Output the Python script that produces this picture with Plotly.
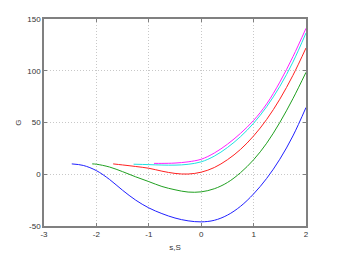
import plotly.graph_objects as go

# Curve data
blue_x = [-2.47, -2.25, -2.0, -1.75, -1.5, -1.25, -1.0, -0.75, -0.5, -0.25, 0.0, 0.25, 0.5, 0.75, 1.0, 1.25, 1.5, 1.75, 2.0]
blue_y = [10, 8.5, 3.5, -5, -15.5, -25, -32.5, -38, -42.3, -45, -46, -44.5, -39.5, -31, -19, -4, 14.5, 37, 64.5]

green_x = [-2.08, -2.0, -1.75, -1.5, -1.25, -1.0, -0.75, -0.5, -0.25, 0.0, 0.25, 0.5, 0.75, 1.0, 1.25, 1.5, 1.75, 2.0]
green_y = [10, 9.7, 7, 2.5, -2.5, -7.1, -11.8, -15, -17.2, -17, -14, -8, 1.5, 14, 30, 50, 73, 98.5]

red_x = [-1.68, -1.5, -1.25, -1.0, -0.75, -0.5, -0.25, 0.0, 0.25, 0.5, 0.75, 1.0, 1.25, 1.5, 1.75, 2.0]
red_y = [10, 9, 7.5, 5.8, 3, 0.8, 0.2, 2, 6.5, 14, 24, 37, 53, 72.5, 95.5, 122]

cyan_x = [-1.29, -1.0, -0.75, -0.5, -0.25, 0.0, 0.25, 0.5, 0.75, 1.0, 1.25, 1.5, 1.75, 2.0]
cyan_y = [9.7, 9.3, 8.9, 8.8, 9.6, 12, 17.5, 25.8, 36.3, 49.3, 65.3, 84.8, 108.3, 136.5]

magenta_x = [-0.9, -0.75, -0.5, -0.25, 0.0, 0.25, 0.5, 0.75, 1.0, 1.25, 1.5, 1.75, 2.0]
magenta_y = [10.5, 10.5, 10.8, 12, 14.5, 20.5, 29, 39.5, 52, 68, 89, 113.5, 141]

x_ticks = [-3, -2, -1, 0, 1, 2]
y_ticks = [-50, 0, 50, 100, 150]

series = [
    (blue_x, blue_y, "#2020ff"),
    (green_x, green_y, "#20a020"),
    (red_x, red_y, "#ff2020"),
    (cyan_x, cyan_y, "#20e0e0"),
    (magenta_x, magenta_y, "#ff20ff"),
]

fig = go.Figure()
for xs, ys, c in series:
    fig.add_trace(go.Scatter(x=xs, y=ys, mode="lines",
                             line=dict(color=c, width=1, shape="spline", smoothing=1.0),
                             showlegend=False, hoverinfo="skip"))

font_family = "Liberation Sans, Arial, sans-serif"
axis_common = dict(
    showline=True, linecolor="#808080", linewidth=1.5, mirror="ticks",
    ticks="inside", ticklen=3, tickcolor="#808080",
    showgrid=True, gridcolor="#c8c8c8", gridwidth=1, griddash="1px,2px",
    zeroline=False, automargin=False,
    tickfont=dict(family=font_family, size=8, color="#333333"),
)

fig.update_xaxes(range=[-3, 2], tickvals=x_ticks, ticktext=[str(v) for v in x_ticks],
                 title=dict(text="s,S", font=dict(family=font_family, size=8, color="#333333"), standoff=6),
                 **axis_common)
fig.update_yaxes(range=[-50, 150], tickvals=y_ticks, ticktext=[str(v) for v in y_ticks],
                 title=dict(text="G", font=dict(family=font_family, size=8, color="#333333"), standoff=4),
                 **axis_common)

# Page body has an 8px margin, so the figure is sized and offset accordingly
fig.update_layout(
    width=331, height=247,
    margin=dict(l=36, r=32.5, t=11, b=29.3),
    paper_bgcolor="white", plot_bgcolor="white",
)

fig.write_html("out.html")
